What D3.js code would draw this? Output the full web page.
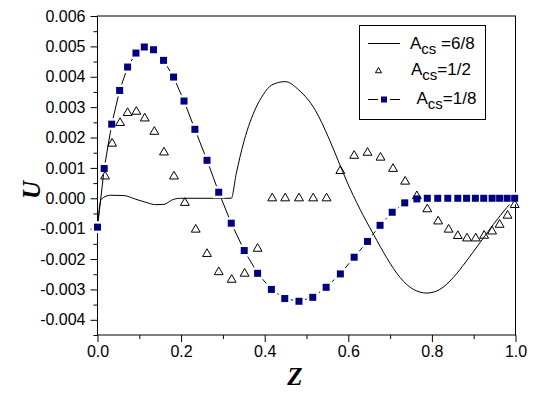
<!DOCTYPE html>
<html>
<head>
<meta charset="utf-8">
<script src="https://cdn.jsdelivr.net/npm/d3@7/dist/d3.min.js"></script>
<style>
  html, body { margin: 0; padding: 0; background: #fff; }
  svg { display: block; }
</style>
</head>
<body>
<svg id="chart" width="536" height="398"></svg>
<script>
// ---- data ----
const solidZ = [0, 0.009, 0.031, 0.063, 0.091, 0.115, 0.139, 0.159, 0.179, 0.198, 0.32, 0.3316, 0.3507, 0.379, 0.397, 0.417, 0.449, 0.482, 0.521, 0.552, 0.576, 0.596, 0.628, 0.66, 0.692, 0.724, 0.756, 0.788, 0.819, 0.851, 0.883, 0.915, 0.947, 0.979, 1.0];
const solidU = [-0.00088, -0.00003, 0.0001, 0.00009, -0.00003, -0.00013, -0.00021, -0.0002, -0.00005, 0, 0, 0.00079, 0.00189, 0.00298, 0.00342, 0.00373, 0.00384, 0.00356, 0.0029, 0.00202, 0.00123, 0.00057, -0.00036, -0.00118, -0.00196, -0.00261, -0.003, -0.00312, -0.003, -0.00261, -0.00206, -0.00146, -0.00086, -0.00031, 0];

const triZ = [0.018, 0.035, 0.054, 0.072, 0.093, 0.113, 0.136, 0.159, 0.183, 0.209, 0.235, 0.262, 0.290, 0.321, 0.352, 0.383, 0.418, 0.449, 0.482, 0.516, 0.548, 0.581, 0.614, 0.646, 0.677, 0.707, 0.736, 0.764, 0.789, 0.815, 0.840, 0.862, 0.884, 0.905, 0.925, 0.944, 0.962, 0.981, 0.998];
const triU = [0.00072, 0.0018, 0.00248, 0.00281, 0.00285, 0.00263, 0.00219, 0.00151, 0.00072, -0.00015, -0.00103, -0.00183, -0.00243, -0.00268, -0.00248, -0.00166, 0, 0, 0, 0, 0, 0.0009, 0.0014, 0.0015, 0.00134, 0.00097, 0.00055, 0.00007, -0.00036, -0.00076, -0.00103, -0.00124, -0.00132, -0.00132, -0.00123, -0.00109, -0.00087, -0.00057, -0.00022];

const sqZ = [0, 0.016, 0.034, 0.053, 0.072, 0.092, 0.112, 0.134, 0.158, 0.182, 0.207, 0.233, 0.262, 0.290, 0.320, 0.351, 0.383, 0.416, 0.448, 0.482, 0.515, 0.547, 0.581, 0.614, 0.646, 0.676, 0.705, 0.735, 0.764, 0.789, 0.814, 0.838, 0.862, 0.883, 0.904, 0.924, 0.944, 0.962, 0.980, 0.998];
const sqU = [-0.00095, 0.00098, 0.00244, 0.00355, 0.00432, 0.00478, 0.00498, 0.00489, 0.00454, 0.00399, 0.0032, 0.00227, 0.00125, 0.0002, -0.00082, -0.00172, -0.00247, -0.003, -0.0033, -0.00339, -0.00326, -0.00293, -0.00249, -0.00194, -0.00142, -0.00089, -0.00046, -0.00015, -0.00002, 0, 0, 0, 0, 0, 0, 0, 0, 0, 0, 0];

const xTicks = [0, 0.2, 0.4, 0.6, 0.8, 1.0];
const xTickLabels = ["0.0", "0.2", "0.4", "0.6", "0.8", "1.0"];
const xMinor = [0.1, 0.3, 0.5, 0.7, 0.9];
const yTicks = [-0.004, -0.003, -0.002, -0.001, 0, 0.001, 0.002, 0.003, 0.004, 0.005, 0.006];
const yTickLabels = ["-0.004", "-0.003", "-0.002", "-0.001", "0.000", "0.001", "0.002", "0.003", "0.004", "0.005", "0.006"];
const yMinor = [-0.0045, -0.0035, -0.0025, -0.0015, -0.0005, 0.0005, 0.0015, 0.0025, 0.0035, 0.0045, 0.0055];

const legendLabels = [{main: "A", sub: "cs", rest: " =6/8"}, {main: "A", sub: "cs", rest: "=1/2"}, {main: "A", sub: "cs", rest: "=1/8"}];

// ---- layout ----
const svg = d3.select("#chart");
const x = d3.scaleLinear().domain([0, 1]).range([97.5, 515.5]);
const y = d3.scaleLinear().domain([-0.0045, 0.006]).range([335, 16]);
const sqColor = "#000080";
const tickFont = "Liberation Sans, Arial, sans-serif";

// axes
const xAxis = svg.append("g").attr("transform", "translate(0,335)")
  .call(d3.axisBottom(x).tickValues(xTicks).tickSize(7).tickSizeOuter(0)
    .tickFormat((d, i) => xTickLabels[i]));
xAxis.select(".domain").remove();
xAxis.selectAll("text").attr("font-family", tickFont).attr("font-size", 16).attr("fill", "#000").attr("dy", "0.71em").attr("y", 11);
xAxis.selectAll("line").attr("stroke", "#000");

const xAxisMinor = svg.append("g").attr("transform", "translate(0,335)")
  .call(d3.axisBottom(x).tickValues(xMinor).tickSize(4).tickFormat(""));
xAxisMinor.select(".domain").remove();

const yAxis = svg.append("g").attr("transform", "translate(97.5,0)")
  .call(d3.axisLeft(y).tickValues(yTicks).tickSize(7).tickSizeOuter(0)
    .tickFormat((d, i) => yTickLabels[i]));
yAxis.select(".domain").remove();
yAxis.selectAll("text").attr("font-family", tickFont).attr("font-size", 16).attr("fill", "#000").attr("x", -12);
yAxis.selectAll("line").attr("stroke", "#000");

const yAxisMinor = svg.append("g").attr("transform", "translate(97.5,0)")
  .call(d3.axisLeft(y).tickValues(yMinor).tickSize(4).tickFormat(""));
yAxisMinor.select(".domain").remove();

// frame
svg.append("rect")
  .attr("x", x(0)).attr("y", y(0.006))
  .attr("width", x(1) - x(0)).attr("height", y(-0.0045) - y(0.006))
  .attr("fill", "none").attr("stroke", "#000").attr("stroke-width", 1);

// clip
svg.append("clipPath").attr("id", "clip").append("rect")
  .attr("x", x(0)).attr("y", y(0.006)).attr("width", x(1) - x(0)).attr("height", y(-0.0045) - y(0.006));

const plot = svg.append("g");

// solid line (6/8)
const solidData = solidZ.map((z, i) => [z, solidU[i]]);
plot.append("path").datum(solidData)
  .attr("fill", "none").attr("stroke", "#000").attr("stroke-width", 1)
  .attr("d", d3.line().x(d => x(d[0])).y(d => y(d[1])).curve(d3.curveMonotoneX));

// square series line (1/8)
const sqData = sqZ.map((z, i) => [z, sqU[i]]);
plot.append("path").datum(sqData)
  .attr("fill", "none").attr("stroke", "#000").attr("stroke-width", 1)
  .attr("d", d3.line().x(d => x(d[0])).y(d => y(d[1])));

// gaps around squares
plot.selectAll("rect.halo").data(sqData).enter().append("rect")
  .attr("class", "halo")
  .attr("x", d => x(d[0]) - 6).attr("y", d => y(d[1]) - 6)
  .attr("width", 12).attr("height", 12).attr("fill", "#fff");

// triangles (1/2)
const triData = triZ.map((z, i) => [z, triU[i]]);
const tri = d3.symbol().type(d3.symbolTriangle).size(34);
plot.selectAll("path.tri").data(triData).enter().append("path")
  .attr("class", "tri")
  .attr("transform", d => `translate(${x(d[0])},${y(d[1])})`)
  .attr("d", tri).attr("fill", "none").attr("stroke", "#000").attr("stroke-width", 1);

// squares
plot.selectAll("rect.sq").data(sqData).enter().append("rect")
  .attr("class", "sq")
  .attr("x", d => x(d[0]) - 3.5).attr("y", d => y(d[1]) - 3.5)
  .attr("width", 7).attr("height", 7).attr("fill", sqColor);

// legend
const lg = svg.append("g");
lg.append("rect").attr("x", 359.5).attr("y", 25.5).attr("width", 126).attr("height", 94)
  .attr("fill", "#fff").attr("stroke", "#000").attr("stroke-width", 1);
// item 1
lg.append("line").attr("x1", 368).attr("x2", 400).attr("y1", 43.5).attr("y2", 43.5).attr("stroke", "#000");
// item 2
lg.append("path").attr("transform", "translate(378.5,71)").attr("d", d3.symbol().type(d3.symbolTriangle).size(16)())
  .attr("fill", "none").attr("stroke", "#000");
// item 3
lg.append("line").attr("x1", 368).attr("x2", 378).attr("y1", 99.5).attr("y2", 99.5).attr("stroke", "#000");
lg.append("line").attr("x1", 390).attr("x2", 400).attr("y1", 99.5).attr("y2", 99.5).attr("stroke", "#000");
lg.append("rect").attr("x", 381).attr("y", 96.5).attr("width", 6).attr("height", 6).attr("fill", sqColor);

const legendPos = [[410, 48.5], [411, 75], [416.5, 103.5]];
legendLabels.forEach((l, i) => {
  const t = lg.append("text").attr("x", legendPos[i][0]).attr("y", legendPos[i][1])
    .attr("font-family", tickFont).attr("font-size", 17).attr("fill", "#000");
  t.append("tspan").text(l.main);
  t.append("tspan").attr("font-size", 15).attr("dy", 5).text(l.sub);
  t.append("tspan").attr("dy", -5).text(l.rest);
});

// axis titles
svg.append("text").attr("x", 295).attr("y", 385).attr("text-anchor", "middle")
  .attr("font-family", "Liberation Serif, Times New Roman, serif").attr("font-weight", "bold").attr("font-style", "italic")
  .attr("font-size", 25).text("Z");
svg.append("text").attr("transform", "translate(40,190) rotate(-90)").attr("text-anchor", "middle")
  .attr("font-family", "Liberation Serif, Times New Roman, serif").attr("font-weight", "bold").attr("font-style", "italic")
  .attr("font-size", 25).text("U");
</script>
</body>
</html>
